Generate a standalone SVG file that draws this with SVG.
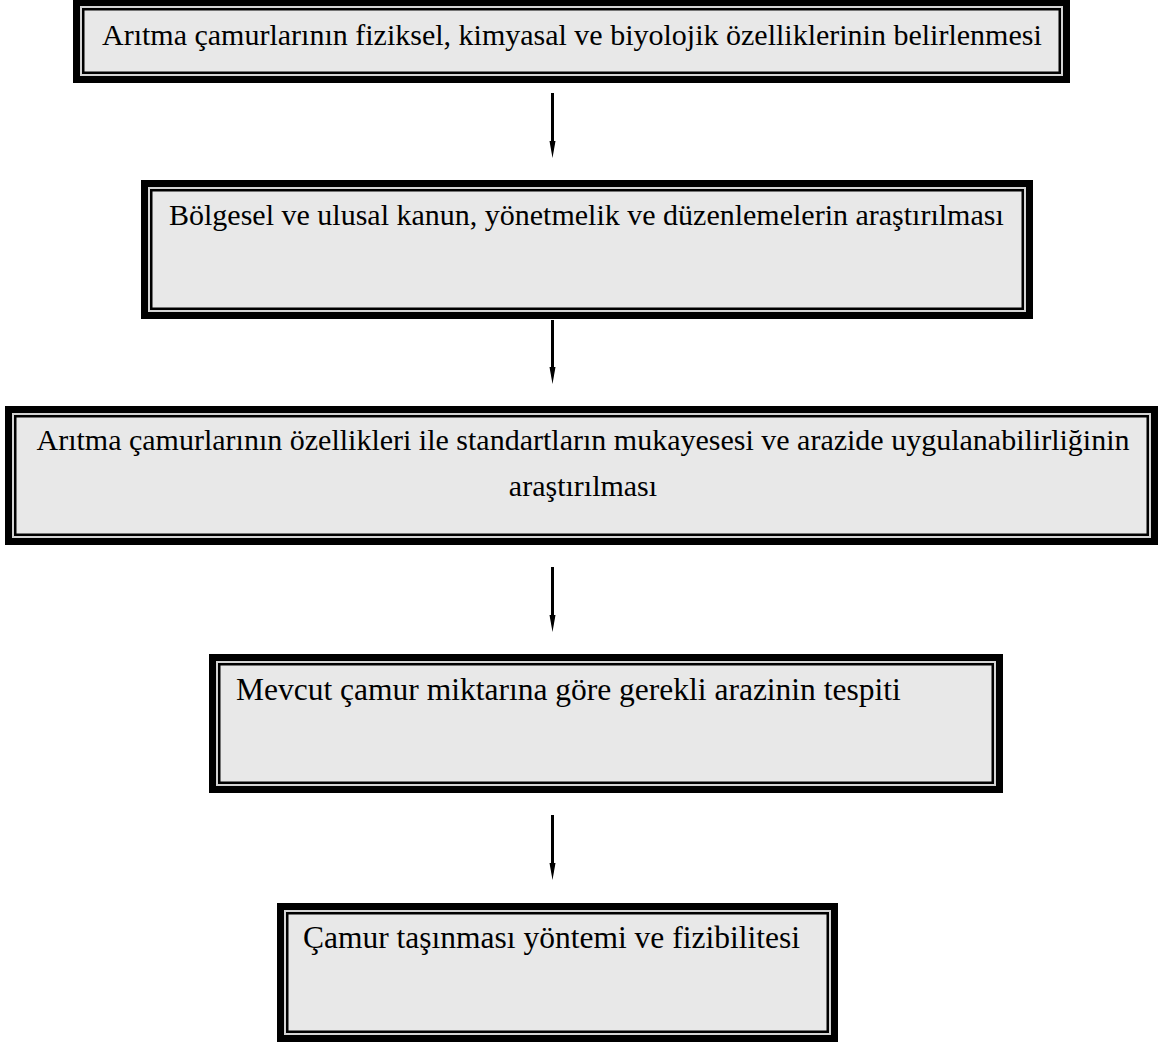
<svg xmlns="http://www.w3.org/2000/svg" width="1159" height="1042" viewBox="0 0 1159 1042">
<style>
.o{fill:#000}
.l{fill:#d4d4d4}
.i{fill:#000}
.f{fill:#e8e8e8}
text{font-family:"Liberation Serif","Times New Roman",serif;font-size:30px;fill:#000}
.b{font-size:31.5px}
.c{stroke:#000;stroke-width:3;fill:none}
.h{fill:#000}
</style>
<rect width="1159" height="1042" fill="#fff"/>
<g id="node1">
<rect class="o" x="73" y="-1" width="997" height="84"/>
<rect class="l" x="80" y="6" width="983" height="70"/>
<rect class="i" x="82" y="8" width="979" height="66"/>
<rect class="f" x="84.5" y="10.5" width="974" height="61"/>
<text x="102" y="45">Arıtma çamurlarının fiziksel, kimyasal ve biyolojik özelliklerinin belirlenmesi</text>
</g>
<g id="node2">
<rect class="o" x="141" y="180" width="892" height="139"/>
<rect class="l" x="148" y="187" width="878" height="125"/>
<rect class="i" x="150" y="189" width="874" height="121"/>
<rect class="f" x="152.5" y="191.5" width="869" height="116"/>
<text x="169" y="225">Bölgesel ve ulusal kanun, yönetmelik ve düzenlemelerin araştırılması</text>
</g>
<g id="node3">
<rect class="o" x="5" y="406" width="1153" height="139"/>
<rect class="l" x="12" y="413" width="1139" height="125"/>
<rect class="i" x="14" y="415" width="1135" height="121"/>
<rect class="f" x="16.5" y="417.5" width="1130" height="116"/>
<text x="583" y="450" text-anchor="middle">Arıtma çamurlarının özellikleri ile standartların mukayesesi ve arazide uygulanabilirliğinin</text>
<text x="583" y="496" text-anchor="middle">araştırılması</text>
</g>
<g id="node4">
<rect class="o" x="209" y="654" width="794" height="139"/>
<rect class="l" x="216" y="661" width="780" height="125"/>
<rect class="i" x="218" y="663" width="776" height="121"/>
<rect class="f" x="220.5" y="665.5" width="771" height="116"/>
<text class="b" x="236" y="700">Mevcut çamur miktarına göre gerekli arazinin tespiti</text>
</g>
<g id="node5">
<rect class="o" x="277" y="903" width="561" height="139"/>
<rect class="l" x="284" y="910" width="547" height="125"/>
<rect class="i" x="286" y="912" width="543" height="121"/>
<rect class="f" x="288.5" y="914.5" width="538" height="116"/>
<text class="b" x="303" y="948">Çamur taşınması yöntemi ve fizibilitesi</text>
</g>
<g id="connectors">
<line class="c" x1="552.5" y1="93" x2="552.5" y2="146"/>
<path class="h" d="M549.5 141 L552.5 158 L555.5 141 Z"/>
<line class="c" x1="552.5" y1="320" x2="552.5" y2="372"/>
<path class="h" d="M549.5 367 L552.5 384 L555.5 367 Z"/>
<line class="c" x1="552.5" y1="567" x2="552.5" y2="620"/>
<path class="h" d="M549.5 615 L552.5 632 L555.5 615 Z"/>
<line class="c" x1="552.5" y1="815" x2="552.5" y2="868"/>
<path class="h" d="M549.5 863 L552.5 880 L555.5 863 Z"/>
</g>
</svg>
